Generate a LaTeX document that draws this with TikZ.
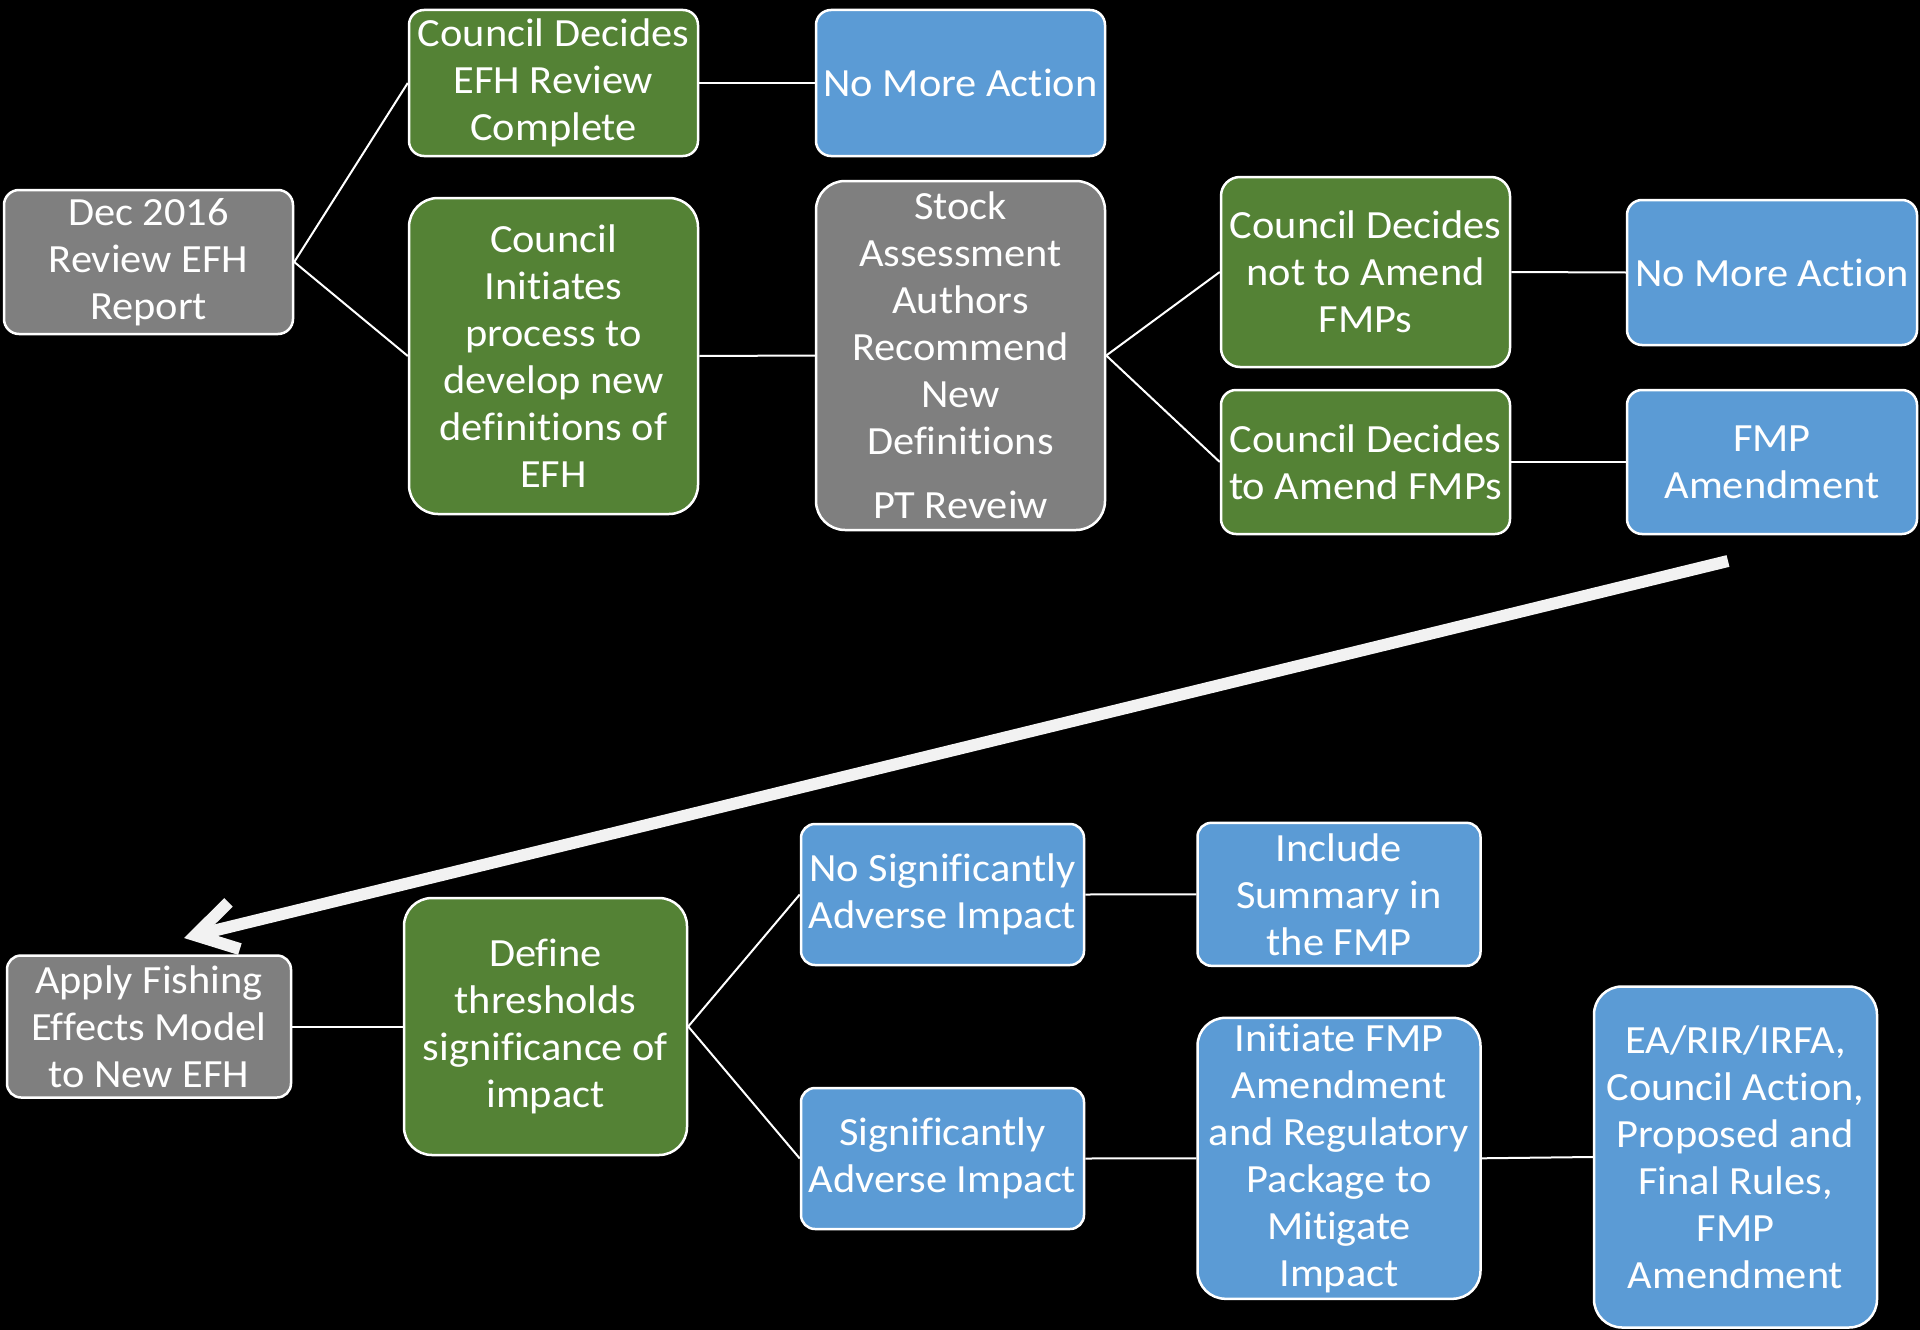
\documentclass[tikz,border=0pt]{standalone}
\usepackage{fontspec}
\setmainfont{Carlito}[FakeStretch=1.06,Ligatures=NoCommon]
\usetikzlibrary{arrows.meta}
\definecolor{boxgreen}{HTML}{548235}
\definecolor{boxblue}{HTML}{5B9BD5}
\definecolor{boxgray}{HTML}{7F7F7F}
\definecolor{arrowwhite}{HTML}{F2F2F2}
\begin{document}
\begin{tikzpicture}[x=1pt,y=-1pt,
  box/.style={draw=white, line width=2.5pt, text=white, align=center, inner sep=0pt,
    font=\fontsize{40}{47}\selectfont},
  gbox/.style={box, fill=boxgreen},
  bbox/.style={box, fill=boxblue},
  ybox/.style={box, fill=boxgray},
  sz/.style n args={3}{minimum width=#1pt, minimum height=#2pt, rounded corners=#3pt},
  link/.style={draw=white, line width=2pt},
  bigarrow/.style={draw=arrowwhite, line width=12pt, -{Straight Barb[length=40pt,width=48pt]}}
]
\fill[black] (0,0) rectangle (1920,1330);
\useasboundingbox (0,0) rectangle (1920,1330);

\node[ybox, sz={289}{144}{15}] (dec) at (148.5,262) {Dec 2016\\Review EFH\\Report};
\node[gbox, sz={289}{146}{15}] (cdc) at (553.5,83) {Council Decides\\EFH Review\\Complete};
\node[bbox, sz={289}{146}{15}] (nma1) at (960.5,83) {No More Action};
\node[gbox, sz={289}{316}{29}] (cin) at (553.5,356) {Council\\Initiates\\process to\\develop new\\definitions of\\EFH};
\node[ybox, sz={289}{349}{29}] (stock) at (960.5,355.5) {Stock\\Assessment\\Authors\\Recommend\\New\\Definitions\\[17pt]PT Reveiw};
\node[gbox, sz={289}{190}{19}] (cnot) at (1365.5,272) {Council Decides\\not to Amend\\FMPs};
\node[bbox, sz={290}{145}{15}] (nma2) at (1772,272.5) {No More Action};
\node[gbox, sz={289}{144}{15}] (camend) at (1365.5,462) {Council Decides\\to Amend FMPs};
\node[bbox, sz={290}{144}{15}] (fmpa) at (1772,462) {FMP\\Amendment};

\node[ybox, sz={284}{142}{14}] (apply) at (149,1026.5) {Apply Fishing\\Effects Model\\to New EFH};
\node[gbox, sz={283}{257}{28}] (define) at (545.5,1026.5) {Define\\thresholds\\significance of\\impact};
\node[bbox, sz={283}{141}{14}] (nosig) at (942.5,894.5) {No Significantly\\Adverse Impact};
\node[bbox, sz={283}{141}{14}] (sig) at (942.5,1158.5) {Significantly\\Adverse Impact};
\node[bbox, sz={283}{143}{14}] (incl) at (1339,894.3) {Include\\Summary in\\the FMP};
\node[bbox, sz={283}{281}{28}] (init) at (1339,1158.3) {Initiate FMP\\Amendment\\and Regulatory\\Package to\\Mitigate\\Impact};
\node[bbox, sz={283}{341}{28}] (ea) at (1735.5,1157) {EA/RIR/IRFA,\\Council Action,\\Proposed and\\Final Rules,\\FMP\\Amendment};

\draw[link] (dec.east) -- (cdc.west);
\draw[link] (dec.east) -- (cin.west);
\draw[link] (cdc.east) -- (nma1.west);
\draw[link] (cin.east) -- (stock.west);
\draw[link] (stock.east) -- (cnot.west);
\draw[link] (stock.east) -- (camend.west);
\draw[link] (cnot.east) -- (nma2.west);
\draw[link] (camend.east) -- (fmpa.west);

\draw[link] (apply.east) -- (define.west);
\draw[link] (define.east) -- (nosig.west);
\draw[link] (define.east) -- (sig.west);
\draw[link] (nosig.east) -- (incl.west);
\draw[link] (sig.east) -- (init.west);
\draw[link] (init.east) -- (ea.west);

\coordinate (astart) at (1728,561);
\coordinate (aend) at (184,938);
\draw[bigarrow] (astart) -- (aend);
\end{tikzpicture}
\end{document}
